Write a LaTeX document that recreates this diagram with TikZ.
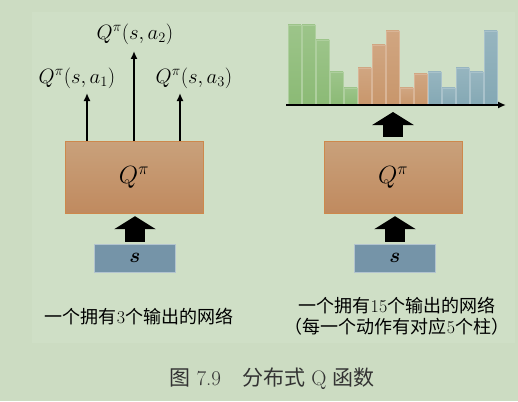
\documentclass[tikz,border=0pt]{standalone}
\usepackage{fontspec}
\usepackage{amsmath,bm}
\newfontfamily\cjk{Noto Sans CJK SC}
\usetikzlibrary{arrows.meta,calc}
\tikzset{>=latex}
\definecolor{bg}{HTML}{CCDCC2}
\definecolor{panel}{HTML}{CFDFC6}
\definecolor{qtop}{HTML}{C9A17B}
\definecolor{qbot}{HTML}{C08A5F}
\definecolor{sbox}{HTML}{7594A8}
\definecolor{barg}{HTML}{8BBA75}
\definecolor{baro}{HTML}{C8966B}
\definecolor{barb}{HTML}{84A8B4}
\newcommand{\Qp}{Q^{\pi}}

\tikzset{
  netbox/.style={draw=qbot!80!orange, top color=qtop, bottom color=qbot,
    minimum width=138pt, minimum height=72pt, inner sep=0pt,
    font=\fontsize{24}{28}\selectfont},
  statebox/.style={draw=sbox!55!white, fill=sbox, minimum width=81pt,
    minimum height=28pt, inner sep=0pt, font=\fontsize{22}{26}\selectfont},
  outarrow/.style={line width=1.8pt, -{Latex[length=8pt,width=7pt]}},
  fatarrow/.style={line width=20pt, -{Triangle[width=41pt,length=13pt]}},
  bar/.style={top color=#1!85!white, bottom color=#1, draw=#1!70!white, line width=0.6pt},
  lbl/.style={inner sep=0pt, font=\fontsize{21.5}{25}\selectfont},
  txt/.style={inner sep=0pt, align=center, font=\fontsize{18}{21}\selectfont}
}

\begin{document}
\begin{tikzpicture}[x=1pt,y=-1pt]
  \fill[bg] (0,0) rectangle (518,401);
  \useasboundingbox (0,0) rectangle (518,401);
  \fill[panel] (32,12) rectangle (515,343);

  % left: one output per action
  \node[netbox] (q1) at (134,177) {$\Qp$};
  \node[statebox] (s1) at (135,258) {$\bm{s}$};
  \draw[fatarrow,shorten <=2pt,shorten >=3pt] (s1.north) -- (s1.north |- q1.south);
  \coordinate (t1) at (87,93);
  \coordinate (t2) at (134,51);
  \coordinate (t3) at (180,93);
  \node[lbl] (l1) at (77,78) {$\Qp(s,a_1)$};
  \node[lbl] (l2) at (135,34) {$\Qp(s,a_2)$};
  \node[lbl] (l3) at (194,78) {$\Qp(s,a_3)$};
  \foreach \t in {t1,t2,t3}
    \draw[outarrow] (q1.north -| \t) -- (\t);
  \node[txt] (c1) at (139,317) {{\cjk 一个拥有}3{\cjk 个输出的网络}};

  % right: distribution over 5 bins per action
  \node[netbox] (q2) at (393,177) {$\Qp$};
  \node[statebox] (s2) at (395,258) {$\bm{s}$};
  \draw[fatarrow,shorten <=2pt,shorten >=3pt] (s2.north) -- (s2.north |- q2.south);
  \foreach \h/\c [count=\i from 0] in {80/barg,80/barg,65/barg,33/barg,17/barg,
      37/baro,60/baro,74/baro,17/baro,31/baro,
      33/barb,17/barb,37/barb,33/barb,74/barb}
    \draw[bar=\c] ({288+14*\i},105) rectangle ++(13,-\h);
  \coordinate (ax0) at (286,105);
  \coordinate (ax1) at (506,105);
  \draw[line width=1.8pt,-{Latex[length=8pt,width=7pt]}] (ax0) -- (ax1);
  \draw[fatarrow,shorten <=4pt,shorten >=7pt] (q2.north) -- (q2.north |- ax0);
  \node[txt] (c2) at (397,316) {{\cjk 一个拥有}15{\cjk 个输出的网络}\\
    {\cjk （每一个动作有对应}5{\cjk 个柱）}};

  \node[inner sep=0pt, text=black!80, font=\fontsize{21}{25}\selectfont] (cap) at (272,379)
    {{\cjk 图} 7.9\quad{\cjk 分布式} Q {\cjk 函数}};
\end{tikzpicture}
\end{document}
